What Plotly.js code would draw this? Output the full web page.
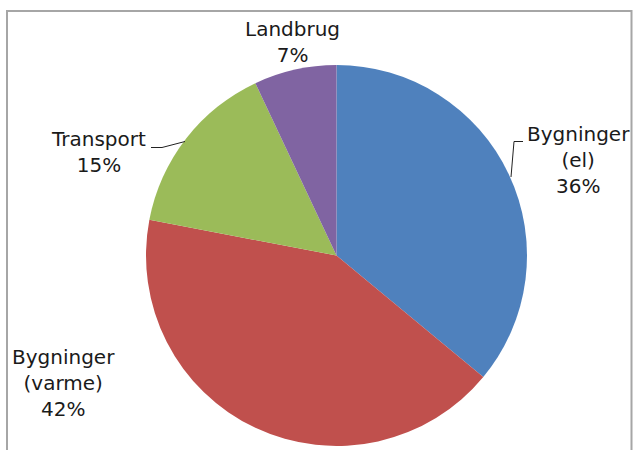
<!DOCTYPE html>
<html>
<head>
<meta charset="utf-8">
<script src="https://cdn.plot.ly/plotly-3.0.1.min.js"></script>
<style>html,body{margin:0;padding:0;background:#fff;}#chart{width:633px;height:450px;}</style>
</head>
<body>
<div id="chart"></div>
<script>
var categories = ["Bygninger (el)", "Bygninger (varme)", "Transport", "Landbrug"];
var labelLines = ["Bygninger<br>(el)", "Bygninger<br>(varme)", "Transport", "Landbrug"];
var values = [36, 42, 15, 7];
var colors = ["#4F81BD", "#C0504D", "#9BBB59", "#8064A2"];

var W = 633, H = 450;
function px(x){return x / W;}
function py(y){return 1 - y / H;}

var total = values.reduce(function(a,b){return a+b;},0);
var pctText = values.map(function(v){return Math.round(v/total*100) + "%";});

// label anchor positions (pixels)
var labelPos = [[578, 160], [63, 383], [98, 152], [292, 42]];

var annotations = categories.map(function(c, i){
  return {
    x: px(labelPos[i][0]), y: py(labelPos[i][1]), xref: "paper", yref: "paper",
    text: labelLines[i] + "<br>" + pctText[i], showarrow: false,
    xanchor: "center", yanchor: "middle", align: "center",
    font: {family: "DejaVu Sans, Verdana, sans-serif", size: 20, color: "#1a1a1a"}
  };
});

function pathFromPts(pts){
  return pts.map(function(p, i){return (i ? "L" : "M") + px(p[0]) + "," + py(p[1]);}).join(" ");
}

var shapes = [
  {type: "rect", xref: "paper", yref: "paper", x0: px(7), x1: px(631.5), y0: -0.05, y1: py(11),
   line: {color: "#A6A6A6", width: 2}, fillcolor: "rgba(0,0,0,0)"},
  {type: "path", xref: "paper", yref: "paper", path: pathFromPts([[511,177],[514,141.5],[523,141.5]]),
   line: {color: "#222", width: 1}},
  {type: "path", xref: "paper", yref: "paper", path: pathFromPts([[151,147.5],[162,147.5],[185,141.5]]),
   line: {color: "#222", width: 1}}
];

var data = [{
  type: "pie",
  labels: categories,
  values: values,
  sort: false,
  direction: "clockwise",
  rotation: 0,
  marker: {colors: colors, line: {width: 0}},
  textinfo: "none",
  hoverinfo: "label+percent",
  domain: {x: [146/W, 527/W], y: [py(446), py(65)]},
  showlegend: false
}];

var layout = {
  width: W, height: H,
  margin: {l: 0, r: 0, t: 0, b: 0},
  paper_bgcolor: "#ffffff",
  showlegend: false,
  annotations: annotations,
  shapes: shapes
};

Plotly.newPlot("chart", data, layout, {displayModeBar: false, staticPlot: true});
</script>
</body>
</html>
